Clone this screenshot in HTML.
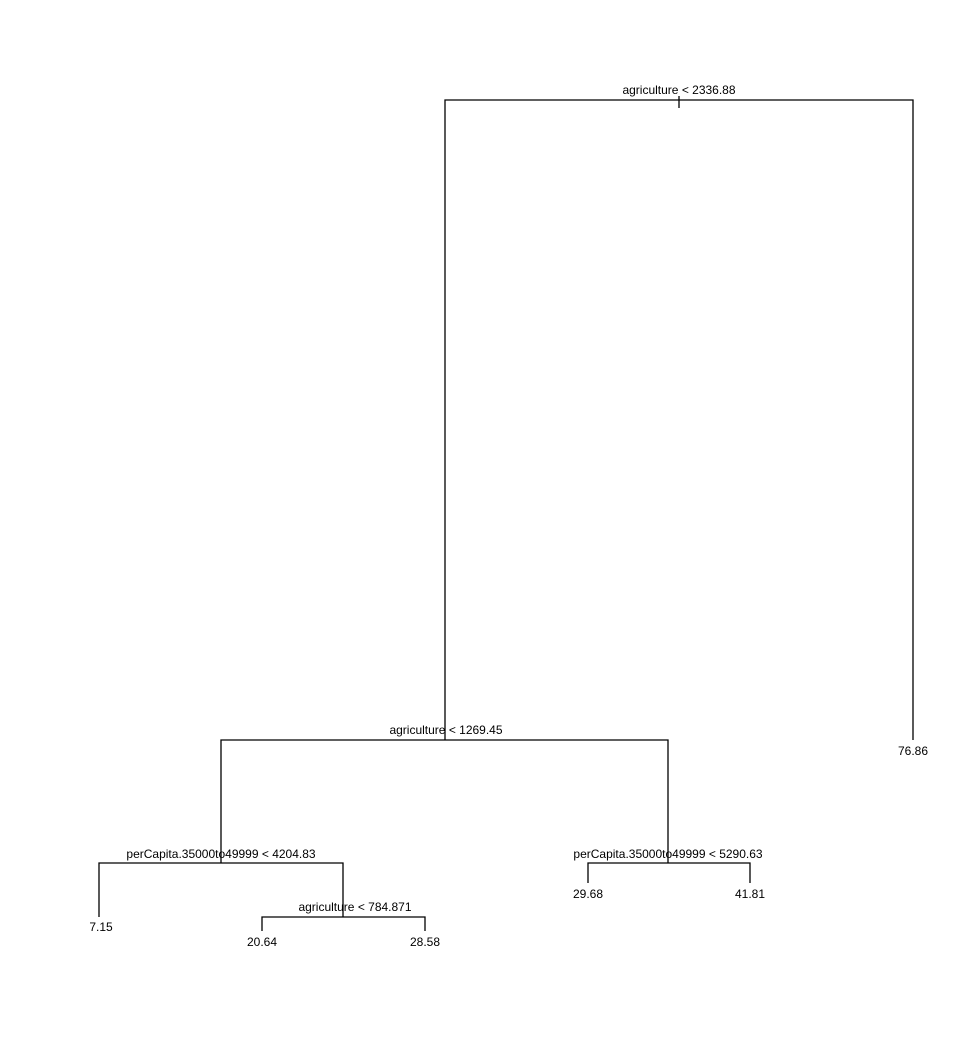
<!DOCTYPE html>
<html><head><style>body{margin:0;background:#fff}</style></head><body>
<svg width="980" height="1048" xmlns="http://www.w3.org/2000/svg" font-family="Liberation Sans, sans-serif" font-size="12" fill="#000">
<g stroke="#000" stroke-width="1.3" fill="none">
<path d="M445,740 V100 H913 V740"/>
<path d="M679,96 V108"/>
<path d="M221,863 V740 H668 V863"/>
<path d="M99,917 V863 H343 V917"/>
<path d="M262,931 V917 H425 V931"/>
<path d="M588,883 V863 H750 V883"/>
</g>
<g text-anchor="middle">
<text x="679" y="94">agriculture &lt; 2336.88</text>
<text x="913" y="755">76.86</text>
<text x="446" y="734">agriculture &lt; 1269.45</text>
<text x="221" y="858">perCapita.35000to49999 &lt; 4204.83</text>
<text x="668" y="858">perCapita.35000to49999 &lt; 5290.63</text>
<text x="101" y="931">7.15</text>
<text x="355" y="911">agriculture &lt; 784.871</text>
<text x="262" y="946">20.64</text>
<text x="425" y="946">28.58</text>
<text x="588" y="898">29.68</text>
<text x="750" y="898">41.81</text>
</g>
</svg>
</body></html>
